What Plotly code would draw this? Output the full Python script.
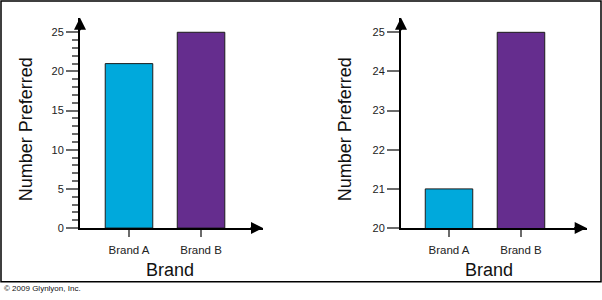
import plotly.graph_objects as go

brands = ["Brand A", "Brand B"]
preferred = [21, 25]
bar_colors = ["#00a9dc", "#652d8e"]
left_major_ticks = [0, 5, 10, 15, 20, 25]
left_minor_ticks = [v for v in range(0, 26) if v % 5 != 0]
right_major_ticks = [20, 21, 22, 23, 24, 25]

W, H = 602, 300
def px(x): return x / W
def py(y): return 1 - y / H

FONT = "Liberation Sans, Arial, Helvetica, sans-serif"
TICKC = "#6b6b6b"

fig = go.Figure()
fig.add_trace(go.Bar(x=brands, y=preferred, width=0.66,
                     marker=dict(color=bar_colors, line=dict(color="#1c1c1c", width=1)),
                     xaxis="x", yaxis="y", showlegend=False))
fig.add_trace(go.Bar(x=brands, y=preferred, width=0.66,
                     marker=dict(color=bar_colors, line=dict(color="#1c1c1c", width=1)),
                     xaxis="x2", yaxis="y2", showlegend=False))

xcommon = dict(showline=True, linecolor="black", linewidth=2, showgrid=False, zeroline=False,
               ticks="outside", ticklen=7, tickwidth=1.5, tickcolor=TICKC, ticklabelstandoff=3,
               tickfont=dict(family=FONT, size=11.5, color="#222"), fixedrange=True)
ycommon = dict(showline=True, linecolor="black", linewidth=2, showgrid=False, zeroline=False,
               ticks="outside", ticklen=12, tickwidth=1.5, tickcolor=TICKC,
               tickfont=dict(family=FONT, size=11, color="#222"), fixedrange=True)

fig.update_layout(
    width=W, height=H, margin=dict(l=0, r=0, t=0, b=0),
    paper_bgcolor="white", plot_bgcolor="white",
    xaxis=dict(domain=[px(80), px(263)], range=[-0.68, 1.86], anchor="y", **xcommon),
    yaxis=dict(domain=[py(232.7), py(18)], range=[0, 26.87], anchor="x",
               tickmode="array", tickvals=left_major_ticks,
               minor=dict(tickmode="array", tickvals=left_minor_ticks, ticks="outside",
                          ticklen=6, tickwidth=1.5, tickcolor=TICKC),
               **ycommon),
    xaxis2=dict(domain=[px(401), px(586.7)], range=[-0.667, 1.913], anchor="y2", **xcommon),
    yaxis2=dict(domain=[py(232.7), py(18)], range=[20, 25.375], anchor="x2",
                tickmode="array", tickvals=right_major_ticks, **ycommon),
    bargap=0.3,
)

annots = []
# arrowheads at the ends of the axes
for (x, y, ax, ay) in [(80, 18, 0, 14), (263, 232.7, -14, 0), (401, 18, 0, 14), (586.7, 232.7, -14, 0)]:
    annots.append(dict(xref="paper", yref="paper", x=px(x), y=py(y), ax=ax, ay=ay, text="",
                       showarrow=True, arrowhead=2, arrowsize=1.2, arrowwidth=2, arrowcolor="black"))
title_font = dict(family=FONT, size=18, color="#111")
C = dict(xanchor="center", yanchor="middle", showarrow=False, xref="paper", yref="paper")
annots += [
    dict(x=px(169.5), y=py(275), text="Brand", font=title_font, **C),
    dict(x=px(489), y=py(275), text="Brand", font=title_font, **C),
    dict(x=px(26), y=py(132), text="Number Preferred", textangle=-90, font=title_font, **C),
    dict(x=px(345), y=py(132), text="Number Preferred", textangle=-90, font=title_font, **C),
    dict(xref="paper", yref="paper", x=px(2), y=py(294), xanchor="left", yanchor="middle",
         text="© 2009 Glynlyon, Inc.", showarrow=False, font=dict(family=FONT, size=8, color="#111")),
]
fig.update_layout(annotations=annots)
fig.add_shape(type="rect", xref="paper", yref="paper", x0=px(1), x1=px(601), y0=py(287.5), y1=py(1),
              line=dict(color="black", width=1.5), fillcolor="rgba(0,0,0,0)")

fig.write_html("out.html")
